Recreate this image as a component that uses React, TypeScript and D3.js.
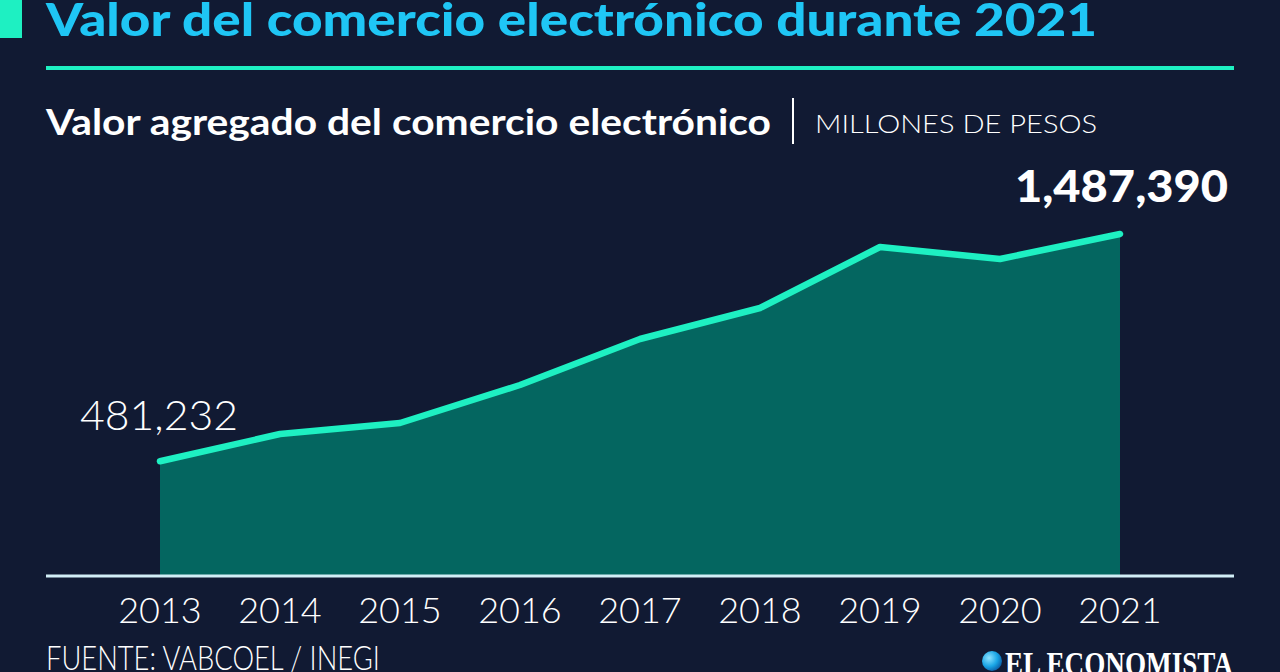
import React from "react";
import * as d3 from "d3";

const years = ["2013", "2014", "2015", "2016", "2017", "2018", "2019", "2020", "2021"];
const values = [481232, 602000, 650700, 819000, 1022600, 1159800, 1429900, 1376700, 1487390];

const W = 1280;
const H = 672;
const BG = "#111a33";
const MINT = "#1ef0c2";
const CYAN = "#1fc6f5";
const FILL = "#046660";
const FONT = "Lato, 'Open Sans', sans-serif";

export default function App() {
  const x = d3.scalePoint<string>().domain(years).range([160, 1120]);
  const y = d3.scaleLinear().domain([0, d3.max(values) as number]).range([570, 234]);
  const axisY = 576;
  const data = years.map((yr, i) => ({ yr, v: values[i] }));
  const area = d3
    .area<{ yr: string; v: number }>()
    .x((d) => x(d.yr) as number)
    .y0(axisY)
    .y1((d) => y(d.v));
  const line = d3
    .line<{ yr: string; v: number }>()
    .x((d) => x(d.yr) as number)
    .y((d) => y(d.v));
  const fmt = d3.format(",");
  const first = data[0];
  const last = data[data.length - 1];

  return (
    <svg
      width={W}
      height={H}
      style={{ position: "absolute", left: 0, top: 0, display: "block" }}
      fontFamily={FONT}
    >
      <defs>
        <radialGradient id="globe" cx="35%" cy="35%" r="70%">
          <stop offset="0%" stopColor="#8fe3ff" />
          <stop offset="60%" stopColor="#1aa6e6" />
          <stop offset="100%" stopColor="#0b5fa8" />
        </radialGradient>
      </defs>
      <rect width={W} height={H} fill={BG} />
      {/* header */}
      <rect x={0} y={0} width={22} height={38} fill={MINT} />
      <text
        x={46}
        y={36}
        fontSize={46}
        fontWeight={900}
        fill={CYAN}
        textLength={1051}
        lengthAdjust="spacingAndGlyphs"
      >
        Valor del comercio electrónico durante 2021
      </text>
      <rect x={46} y={66} width={1188} height={4} fill={MINT} />
      <text
        x={46}
        y={135}
        fontSize={37}
        fontWeight={700}
        fill="#ffffff"
        textLength={725}
        lengthAdjust="spacingAndGlyphs"
      >
        Valor agregado del comercio electrónico
      </text>
      <rect x={792} y={98} width={2} height={46} fill="#ffffff" />
      <text
        x={815}
        y={133}
        fontSize={26}
        fontWeight={300}
        fill="#ffffff"
        textLength={282}
        lengthAdjust="spacingAndGlyphs"
      >
        MILLONES DE PESOS
      </text>

      {/* chart */}
      <path d={area(data) as string} fill={FILL} />
      <path
        d={line(data) as string}
        fill="none"
        stroke={MINT}
        strokeWidth={6.5}
        strokeLinejoin="round"
        strokeLinecap="round"
      />
      <rect x={46} y={axisY - 1.5} width={1188} height={3} fill="#d2eef6" />

      {years.map((yr) => (
        <text
          key={yr}
          x={x(yr) as number}
          y={623}
          fontSize={36}
          fontWeight={300}
          fill="#ffffff"
          textAnchor="middle"
        >
          {yr}
        </text>
      ))}

      <text
        x={(x(first.yr) as number) - 80}
        y={430}
        fontSize={41}
        fontWeight={300}
        fill="#ffffff"
        textLength={158}
        lengthAdjust="spacingAndGlyphs"
      >
        {fmt(first.v)}
      </text>
      <text
        x={(x(last.yr) as number) - 105}
        y={202}
        fontSize={43}
        fontWeight={900}
        fill="#ffffff"
        textLength={213}
        lengthAdjust="spacingAndGlyphs"
      >
        {fmt(last.v)}
      </text>

      {/* footer */}
      <text
        x={46}
        y={670}
        fontSize={33}
        fontWeight={300}
        fill="#ffffff"
        textLength={334}
        lengthAdjust="spacingAndGlyphs"
      >
        FUENTE: VABCOEL / INEGI
      </text>
      <circle cx={992} cy={661} r={10} fill="url(#globe)" />
      <text
        x={1005}
        y={675}
        fontSize={33}
        fontWeight={700}
        fontFamily="'Liberation Serif', 'DejaVu Serif', serif"
        fill="#ffffff"
        textLength={228}
        lengthAdjust="spacingAndGlyphs"
      >
        EL ECONOMISTA
      </text>
    </svg>
  );
}
